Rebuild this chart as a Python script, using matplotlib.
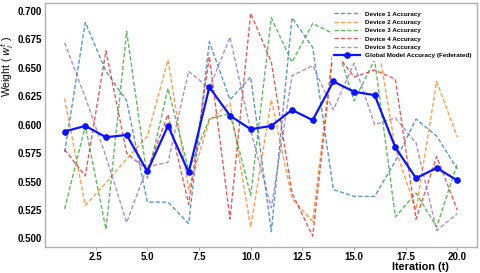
import matplotlib
matplotlib.use("Agg")
import matplotlib.pyplot as plt
from matplotlib.ticker import MultipleLocator

# Datos (iteraciones 1..20)
iteraciones = list(range(1, 21))
device1 = [0.576, 0.690, 0.647, 0.621, 0.532, 0.532, 0.513, 0.673, 0.622, 0.642,
           0.506, 0.694, 0.668, 0.543, 0.537, 0.537, 0.568, 0.605, 0.590, 0.561]
device2 = [0.623, 0.529, 0.549, 0.570, 0.590, 0.657, 0.543, 0.604, 0.619, 0.510,
           0.622, 0.535, 0.515, 0.668, 0.693, 0.688, 0.579, 0.525, 0.638, 0.589]
device3 = [0.526, 0.599, 0.508, 0.682, 0.553, 0.632, 0.560, 0.605, 0.610, 0.538,
           0.694, 0.655, 0.689, 0.680, 0.621, 0.657, 0.519, 0.540, 0.510, 0.566]
device4 = [0.578, 0.555, 0.665, 0.575, 0.560, 0.609, 0.530, 0.660, 0.517, 0.698,
           0.655, 0.540, 0.502, 0.666, 0.642, 0.648, 0.640, 0.517, 0.572, 0.525]
device5 = [0.672, 0.624, 0.572, 0.514, 0.563, 0.567, 0.647, 0.632, 0.677, 0.595,
           0.527, 0.643, 0.652, 0.613, 0.654, 0.600, 0.606, 0.584, 0.507, 0.522]
global_model = [0.594, 0.599, 0.589, 0.591, 0.559, 0.599, 0.558, 0.633, 0.608, 0.596,
                0.599, 0.613, 0.604, 0.638, 0.629, 0.626, 0.580, 0.553, 0.562, 0.551]

devices = [device1, device2, device3, device4, device5]
colores = ["#1f77b4", "#ff7f0e", "#2ca02c", "#d62728", "#9467bd"]

plt.rcParams["font.family"] = ["Liberation Sans", "DejaVu Sans"]

fig = plt.figure(figsize=(4.8, 2.73), dpi=100)
ax = fig.add_axes([45 / 480, 1 - 247 / 273, 432 / 480, 244 / 273])

for i, (vals, col) in enumerate(zip(devices, colores)):
    ax.plot(iteraciones, vals, linestyle="--", color=col, linewidth=1.0,
            alpha=0.75, dashes=(3, 1.6), label=f"Device {i + 1} Accuracy")

ax.plot(iteraciones, global_model, color="#0a14ff", linewidth=1.6, marker="o",
        markersize=3.8, label="Global Model Accuracy (Federated)")

ax.set_xlim(0.05, 20.95)
ax.set_ylim(0.4925, 0.707)
ax.xaxis.set_major_locator(MultipleLocator(2.5))
ax.yaxis.set_major_locator(MultipleLocator(0.025))
ax.yaxis.set_major_formatter(plt.FormatStrFormatter("%.3f"))

for lbl in ax.get_xticklabels() + ax.get_yticklabels():
    lbl.set_fontweight("bold")
    lbl.set_fontsize(7)
ax.tick_params(axis="both", length=2, width=0.6, color="#999999", pad=1.5)
ax.tick_params(axis="y", length=0, pad=2)

for sp in ax.spines.values():
    sp.set_color("#b0b0b0")
    sp.set_linewidth(1.0)

ax.set_ylabel("Weight ( $w_i^t$ )", fontsize=7.5)
ax.yaxis.set_label_coords(-0.068, 0.74)
ax.set_xlabel("Iteration (t)", fontsize=7.8, fontweight="bold")
ax.xaxis.set_label_coords(0.868, -0.06)

leg = ax.legend(loc="upper right", bbox_to_anchor=(1.0, 0.99),
                prop={"weight": "bold", "size": 4.6}, handlelength=4.0,
                handletextpad=0.8, labelspacing=0.45, frameon=True,
                framealpha=1.0, edgecolor="none", borderpad=0.4)

fig.savefig("out.png", dpi=100)
